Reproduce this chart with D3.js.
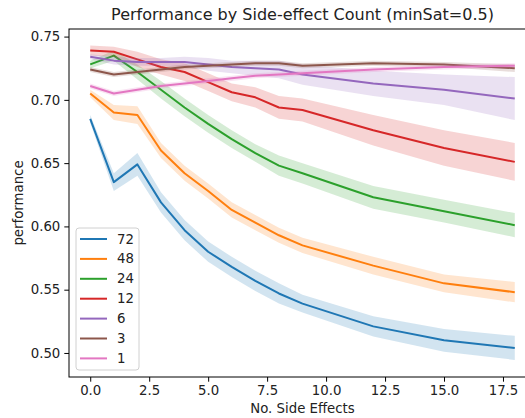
<!DOCTYPE html>
<html>
<head>
<meta charset="utf-8">
<script src="https://cdn.jsdelivr.net/npm/d3@7"></script>
<style>
  body { margin: 0; background: #fff; overflow: hidden; }
  svg { display: block; font-family: "DejaVu Sans", sans-serif; }
</style>
</head>
<body>
<svg id="chart" width="525" height="418"></svg>
<script>
// side effect counts (x)
const sideEffects = [0, 1, 2, 3, 4, 5, 6, 7, 8, 9, 12, 15, 18];
const groups = ["72", "48", "24", "12", "6", "3", "1"];
const colors = ["#1f77b4", "#ff7f0e", "#2ca02c", "#d62728", "#9467bd", "#8c564b", "#e377c2"];

// mean performance per group
const perf72 = [0.685, 0.635, 0.649, 0.619, 0.597, 0.580, 0.568, 0.557, 0.547, 0.539, 0.521, 0.510, 0.504];
const perf48 = [0.705, 0.690, 0.688, 0.660, 0.642, 0.628, 0.613, 0.603, 0.593, 0.585, 0.569, 0.555, 0.548];
const perf24 = [0.728, 0.735, 0.722, 0.708, 0.694, 0.681, 0.669, 0.658, 0.648, 0.642, 0.623, 0.612, 0.601];
const perf12 = [0.739, 0.738, 0.732, 0.726, 0.722, 0.714, 0.706, 0.702, 0.694, 0.692, 0.676, 0.662, 0.651];
const perf6  = [0.734, 0.731, 0.730, 0.730, 0.730, 0.728, 0.726, 0.725, 0.724, 0.720, 0.713, 0.708, 0.701];
const perf3  = [0.724, 0.720, 0.722, 0.724, 0.726, 0.727, 0.728, 0.729, 0.729, 0.727, 0.729, 0.728, 0.725];
const perf1  = [0.711, 0.705, 0.708, 0.711, 0.713, 0.715, 0.717, 0.719, 0.720, 0.721, 0.724, 0.726, 0.727];

// half width of the confidence band
const ci72 = [0.003, 0.007, 0.009, 0.008, 0.008, 0.008, 0.008, 0.008, 0.008, 0.007, 0.008, 0.009, 0.0095];
const ci48 = [0.003, 0.006, 0.007, 0.006, 0.006, 0.006, 0.006, 0.006, 0.006, 0.006, 0.007, 0.007, 0.008];
const ci24 = [0.003, 0.004, 0.006, 0.007, 0.007, 0.007, 0.007, 0.007, 0.008, 0.008, 0.009, 0.009, 0.0095];
const ci12 = [0.004, 0.004, 0.006, 0.006, 0.007, 0.007, 0.007, 0.008, 0.009, 0.009, 0.012, 0.014, 0.015];
const ci6  = [0.002, 0.003, 0.003, 0.003, 0.004, 0.005, 0.005, 0.006, 0.007, 0.008, 0.010, 0.012, 0.017];
const ci3  = [0.002, 0.002, 0.002, 0.002, 0.002, 0.002, 0.002, 0.002, 0.002, 0.002, 0.002, 0.002, 0.003];
const ci1  = [0.002, 0.002, 0.002, 0.002, 0.002, 0.002, 0.002, 0.002, 0.002, 0.002, 0.002, 0.002, 0.002];

const xTicks = [0, 2.5, 5, 7.5, 10, 12.5, 15, 17.5];
const yTicks = [0.50, 0.55, 0.60, 0.65, 0.70, 0.75];

const means = [perf72, perf48, perf24, perf12, perf6, perf3, perf1];
const cis = [ci72, ci48, ci24, ci12, ci6, ci3, ci1];

const mLeft = 69, mRight = 536, mTop = 29, mBottom = 377;

const svg = d3.select('#chart');

const x = d3.scaleLinear().domain([-0.9, 18.9]).range([mLeft, mRight]);
const y = d3.scaleLinear().domain([0.481, 0.756]).range([mBottom, mTop]);

const series = groups.map((g, i) => ({
  name: g,
  color: colors[i],
  points: sideEffects.map((s, j) => ({x: s, y: means[i][j], ci: cis[i][j]}))
}));

const area = d3.area()
  .x(d => x(d.x))
  .y0(d => y(d.y - d.ci))
  .y1(d => y(d.y + d.ci));

const line = d3.line()
  .x(d => x(d.x))
  .y(d => y(d.y));

const plot = svg.append('g');

series.forEach(s => {
  plot.append('path')
    .attr('d', area(s.points))
    .attr('fill', s.color)
    .attr('fill-opacity', 0.2)
    .attr('stroke', 'none');
  plot.append('path')
    .attr('d', line(s.points))
    .attr('fill', 'none')
    .attr('stroke', s.color)
    .attr('stroke-width', 2)
    .attr('stroke-linejoin', 'round');
});

// axes
svg.append('g')
  .attr('transform', 'translate(0,' + mBottom + ')')
  .call(d3.axisBottom(x).tickValues(xTicks).tickFormat(d3.format('.1f')).tickSizeOuter(0).tickSize(4.7).tickPadding(4))
  .call(g => g.select('.domain').remove())
  .call(g => g.selectAll('text').attr('font-size', 13.3).attr('fill', '#222').attr('font-family', 'DejaVu Sans'));

svg.append('g')
  .attr('transform', 'translate(' + mLeft + ',0)')
  .call(d3.axisLeft(y).tickValues(yTicks).tickFormat(d3.format('.2f')).tickSizeOuter(0).tickSize(4.7).tickPadding(4))
  .call(g => g.select('.domain').remove())
  .call(g => g.selectAll('text').attr('font-size', 13.3).attr('fill', '#222').attr('font-family', 'DejaVu Sans'));

// spines
svg.append('rect')
  .attr('x', mLeft).attr('y', mTop)
  .attr('width', mRight - mLeft).attr('height', mBottom - mTop)
  .attr('fill', 'none').attr('stroke', '#000').attr('stroke-width', 1);

// titles
svg.append('text')
  .attr('x', (mLeft + mRight) / 2).attr('y', 14)
  .attr('text-anchor', 'middle').attr('dominant-baseline', 'central')
  .attr('font-size', 16).attr('fill', '#222')
  .text('Performance by Side-effect Count (minSat=0.5)');

svg.append('text')
  .attr('x', (mLeft + mRight) / 2).attr('y', 408)
  .attr('text-anchor', 'middle').attr('dominant-baseline', 'central')
  .attr('font-size', 13.3).attr('fill', '#222')
  .text('No. Side Effects');

svg.append('text')
  .attr('transform', 'translate(18,' + (mTop + mBottom) / 2 + ') rotate(-90)')
  .attr('text-anchor', 'middle').attr('dominant-baseline', 'central')
  .attr('font-size', 13.3).attr('fill', '#222')
  .text('performance');

// legend
const legend = svg.append('g');
legend.append('rect')
  .attr('x', 76).attr('y', 228).attr('width', 63).attr('height', 142)
  .attr('rx', 3)
  .attr('fill', '#fff').attr('fill-opacity', 0.8)
  .attr('stroke', '#d0d0d0').attr('stroke-width', 1);

const item = legend.selectAll('g.item')
  .data(series)
  .enter().append('g')
  .attr('class', 'item')
  .attr('transform', (d, i) => 'translate(0,' + (239 + i * 19.9) + ')');

item.append('line')
  .attr('x1', 80).attr('x2', 107)
  .attr('stroke', d => d.color).attr('stroke-width', 2);

item.append('text')
  .attr('x', 117)
  .attr('dominant-baseline', 'central')
  .attr('font-size', 13.3).attr('fill', '#222')
  .text(d => d.name);
</script>
</body>
</html>
